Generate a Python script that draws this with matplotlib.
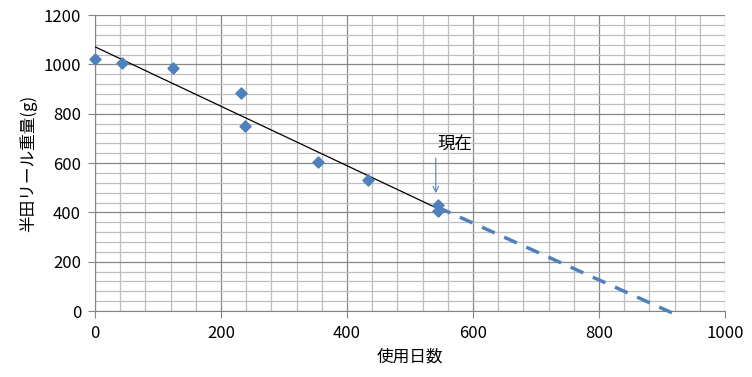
import numpy as np
import matplotlib
matplotlib.use('Agg')
import matplotlib.pyplot as plt
from matplotlib.ticker import MultipleLocator

plt.rcParams['font.family'] = ['Noto Sans CJK JP', 'DejaVu Sans']

# measured data (days used, reel weight in g)
days = [0, 43, 124, 232, 238, 354, 433, 544, 544]
weight = [1020, 1005, 985, 885, 750, 605, 530, 430, 405]

# hand-drawn forecast line (dashed)
forecast_days = [544, 927]
forecast_weight = [421, -20]

x_label = '使用日数'
y_label = '半田リール重量(g)'
note = '現在'

# linear trend like the Excel trendline
slope, icpt = np.polyfit(days, weight, 1)
trend_x = np.array([0, max(days)])

fig = plt.figure(figsize=(7.52, 3.77), dpi=100)
ax = fig.add_axes([0.1263, 0.175, 0.8377, 0.785])

ax.set_xlim(0, 1000)
ax.set_ylim(0, 1200)
ax.xaxis.set_major_locator(MultipleLocator(200))
ax.yaxis.set_major_locator(MultipleLocator(200))
ax.xaxis.set_minor_locator(MultipleLocator(40))
ax.yaxis.set_minor_locator(MultipleLocator(40))
ax.grid(which='minor', color='#bebebe', lw=0.9)
ax.grid(which='major', color='#878787', lw=0.9)
ax.set_axisbelow(True)

for s in ['top', 'right']:
    ax.spines[s].set_visible(False)
for s in ['left', 'bottom']:
    ax.spines[s].set_color('#858585')
ax.tick_params(which='major', length=5, color='#858585', labelsize=12, pad=5)
ax.tick_params(which='minor', length=0)

ax.plot(trend_x, icpt + slope * trend_x, color='black', lw=0.9, zorder=3)
ax.plot(forecast_days, forecast_weight, color='#4f81bd', lw=2.5,
        ls=(0, (4, 3)), zorder=3, clip_on=False)
ax.scatter(days, weight, marker='D', s=32, color='#4f81bd', zorder=4, clip_on=False)

ax.text(571, 680, note, fontsize=12.5, ha='center', va='center')
ax.annotate('', xy=(541, 478), xytext=(541, 620),
            arrowprops=dict(arrowstyle='->', color='#4f81bd', lw=0.8,
                            shrinkA=0, shrinkB=0))

ax.set_xlabel(x_label, fontsize=12, labelpad=5)
ax.set_ylabel(y_label, fontsize=12, labelpad=5)

fig.savefig('out.png', dpi=100)
